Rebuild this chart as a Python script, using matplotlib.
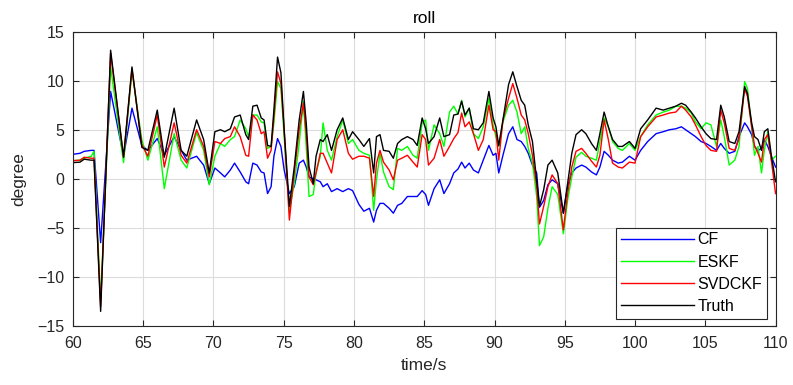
import matplotlib
matplotlib.use("Agg")
import matplotlib.pyplot as plt

plt.rcParams['font.family'] = ['Liberation Sans', 'DejaVu Sans']

t = [60.0, 60.5, 60.8, 61.3, 61.5, 61.97, 62.68, 63.6, 64.2, 64.9, 65.33, 66.0, 66.5, 67.2, 67.7,
     68.1, 68.8, 69.3, 69.7, 70.1, 70.5, 70.8, 71.2, 71.5, 71.9, 72.3, 72.5, 72.8, 73.1, 73.4,
     73.6, 73.85, 74.1, 74.3, 74.56, 74.8, 75.03, 75.4, 75.75, 76.1, 76.4, 76.6, 76.8, 77.1, 77.3,
     77.6, 77.8, 78.1, 78.4, 78.8, 79.2, 79.6, 79.9, 80.35, 80.7, 81.1, 81.4, 81.6, 81.85, 82.1,
     82.5, 82.8, 83.1, 83.4, 83.8, 84.2, 84.5, 84.85, 85.1, 85.3, 85.7, 86.1, 86.4, 86.8, 87.1,
     87.4, 87.66, 87.9, 88.2, 88.5, 88.85, 89.2, 89.6, 89.9, 90.1, 90.3, 90.6, 91.0, 91.3, 91.6,
     91.9, 92.15, 92.4, 92.7, 93.0, 93.2, 93.5, 93.8, 94.1, 94.5, 94.9, 95.2, 95.5, 95.8, 96.2,
     96.5, 96.9, 97.25, 97.5, 97.8, 98.1, 98.4, 98.8, 99.1, 99.6, 100.0, 100.4, 100.9, 101.5, 102.0,
     102.45, 102.9, 103.3, 103.6, 104.0, 104.3, 104.7, 105.05, 105.4, 105.8, 106.1, 106.35, 106.7, 107.1, 107.4,
     107.8, 108.0, 108.3, 108.5, 108.75, 109.0, 109.2, 109.45, 109.7, 110.0]

truth = [1.65, 1.7, 2.0, 1.9, 1.9, -13.5, 13.1, 2.2, 11.4, 3.2, 2.9, 7.0, 2.2, 7.2, 2.9,
         2.3, 6.0, 4.0, 0.6, 4.8, 5.0, 4.8, 5.1, 6.3, 6.5, 4.5, 4.0, 7.4, 7.5, 6.2,
         6.0, 3.4, 3.3, 7.0, 12.4, 10.8, 5.0, -2.8, 1.2, 6.0, 8.9, 5.7, 1.2, -0.5, 2.3,
         4.0, 3.8, 4.5, 2.9, 5.0, 6.2, 4.0, 4.8, 4.0, 3.3, 4.1, 0.6, 4.3, 4.5, 2.9,
         2.8, 2.1, 3.6, 4.0, 4.3, 4.0, 3.4, 6.2, 5.1, 3.6, 4.3, 6.2, 4.3, 4.5, 6.5,
         6.6, 7.9, 6.5, 7.2, 5.1, 5.0, 5.7, 8.9, 6.2, 5.3, 3.4, 6.0, 9.6, 10.9, 9.4,
         8.0, 7.5, 5.5, 3.8, -0.1, -2.8, -1.1, 1.4, 1.9, 0.6, -3.5, -0.5, 2.6, 4.5, 5.0,
         4.6, 3.6, 2.9, 4.6, 6.8, 5.3, 4.0, 3.3, 3.3, 3.8, 3.1, 5.1, 6.0, 7.2, 7.0,
         7.2, 7.4, 7.7, 7.5, 6.8, 6.2, 5.3, 4.6, 4.1, 4.0, 7.5, 6.3, 3.8, 3.6, 4.8,
         9.4, 8.7, 5.7, 4.3, 4.0, 2.9, 4.8, 5.1, 2.4, -0.3]

svdckf = [1.85, 1.9, 2.2, 2.1, 2.1, -13.0, 12.8, 2.2, 11.2, 3.5, 2.3, 6.5, 1.2, 5.7, 2.4,
          1.6, 5.0, 3.3, 0.2, 3.8, 3.6, 4.1, 4.3, 5.3, 4.3, 2.4, 2.3, 6.5, 6.0, 4.6,
          4.8, 2.1, 2.9, 6.3, 10.9, 9.7, 5.0, -4.2, 0.6, 5.0, 7.7, 4.6, 0.2, -0.6, 0.6,
          2.6, 2.6, 1.6, 0.6, 4.0, 5.0, 2.6, 2.0, 2.3, 2.3, 2.1, -1.8, 1.6, 2.9, 1.7,
          0.9, -0.1, 1.9, 2.1, 2.4, 1.7, 1.2, 4.5, 4.0, 1.4, 2.1, 4.0, 2.3, 3.3, 4.1,
          4.7, 6.7, 5.3, 5.8, 4.6, 2.9, 4.0, 7.5, 5.0, 4.8, 1.9, 6.0, 8.2, 9.7, 8.2,
          6.5, 6.0, 4.6, 2.4, -0.8, -4.6, -2.8, -0.8, 0.4, -0.5, -5.2, -1.5, 1.2, 2.8, 3.1,
          2.6, 1.8, 1.2, 2.4, 6.0, 4.0, 1.6, 1.2, 1.1, 1.7, 1.6, 4.3, 5.3, 6.3, 6.5,
          6.7, 6.8, 7.4, 7.0, 6.3, 5.5, 4.3, 3.4, 2.9, 2.8, 7.0, 5.7, 3.1, 2.9, 4.1,
          9.2, 8.4, 5.3, 3.4, 2.6, 1.7, 4.0, 4.5, 1.9, -1.5]

eskf = [1.85, 1.9, 2.1, 2.3, 2.8, -12.4, 11.4, 1.65, 11.0, 4.0, 1.9, 5.3, -1.0, 4.6, 1.9,
        1.1, 4.7, 2.9, -0.6, 2.3, 3.6, 3.3, 4.0, 4.3, 6.0, 5.1, 4.3, 6.5, 6.5, 5.8,
        5.7, 3.1, 3.3, 5.7, 9.9, 9.2, 4.3, -3.2, -0.5, 3.6, 7.9, 3.3, -1.8, -1.6, 0.6,
        2.3, 5.7, 2.9, 1.9, 4.3, 6.0, 3.6, 4.0, 2.9, 2.6, 2.4, -3.2, -0.1, 2.6, 0.7,
        -0.8, -1.1, 3.1, 2.9, 3.3, 2.4, 2.1, 5.7, 6.0, 2.9, 5.5, 4.6, 3.3, 6.8, 7.4,
        6.6, 8.0, 6.3, 7.2, 4.6, 4.1, 5.3, 8.2, 5.5, 4.3, 3.3, 5.8, 7.5, 8.0, 6.8,
        4.6, 5.3, 3.1, 1.6, -1.8, -6.8, -5.9, -3.0, -0.8, -1.6, -5.6, -2.2, 0.2, 2.2, 2.7,
        2.3, 2.1, 1.9, 3.8, 6.2, 5.3, 3.8, 3.1, 2.9, 3.6, 2.9, 4.3, 5.5, 6.5, 6.8,
        7.0, 7.4, 7.4, 7.2, 6.7, 5.8, 5.1, 5.7, 5.5, 3.3, 6.0, 4.3, 1.4, 1.9, 3.3,
        9.9, 9.2, 5.3, 2.4, 3.3, 0.6, 2.9, 4.8, 1.9, 2.3]

cf = [2.5, 2.6, 2.8, 2.9, 2.9, -6.5, 8.9, 2.3, 7.2, 3.4, 2.9, 4.1, 2.4, 4.3, 2.9,
      1.9, 2.3, 1.4, -0.5, 1.1, 0.6, 0.2, 0.9, 1.6, 0.7, -0.3, -0.5, 1.6, 1.4, 0.7,
      0.6, -1.5, -0.8, 2.3, 4.1, 3.3, 0.9, -1.5, -0.8, 1.6, 1.9, 1.2, 0.2, 0.0, -0.1,
      -0.3, -0.8, -0.5, -1.3, -1.0, -1.3, -1.0, -1.2, -2.6, -3.3, -3.0, -4.4, -3.2, -2.5, -2.5,
      -3.0, -3.5, -2.7, -2.5, -1.8, -1.8, -1.8, -1.2, -1.6, -2.7, -1.0, -0.1, -1.5, -0.5, 0.6,
      1.0, 1.7, 1.1, 1.6, 0.9, 0.6, 1.9, 3.4, 2.4, 2.6, 0.6, 2.4, 4.6, 5.3, 4.0,
      3.8, 3.3, 2.6, 1.4, 0.6, -2.9, -2.2, -0.6, -0.1, -0.5, -3.5, -0.8, 0.6, 1.1, 1.4,
      1.2, 0.7, 0.4, 1.2, 2.8, 2.4, 1.9, 1.6, 1.7, 2.3, 1.9, 2.9, 3.8, 4.6, 4.8,
      5.0, 5.1, 5.3, 5.0, 4.6, 4.3, 3.8, 3.6, 3.3, 2.9, 3.6, 3.1, 2.6, 2.8, 4.3,
      5.7, 5.3, 4.5, 3.3, 2.9, 3.1, 4.0, 3.3, 2.3, 1.2]

series_names = ['CF', 'ESKF', 'SVDCKF', 'Truth']
series_colors = ['#0000ff', '#00ff00', '#ff0000', '#000000']

fig = plt.figure(figsize=(7.93, 3.85), dpi=100)
ax = fig.add_axes([0.092, 0.153, 0.886, 0.765])

for vals, name, col in zip([cf, eskf, svdckf, truth], series_names, series_colors):
    ax.plot(t, vals, color=col, lw=1.0, label=name)

ax.set_xlim(60, 110)
ax.set_ylim(-15, 15)
ax.set_xticks(range(60, 111, 5))
ax.set_yticks(range(-15, 16, 5))
ax.grid(True, color='#dcdcdc', lw=0.8)
ax.set_axisbelow(True)
ax.tick_params(direction='in', top=True, right=True, labelsize=11.5, colors='#262626', length=4)
ax.tick_params(axis='x', pad=7)
ax.tick_params(axis='y', pad=6)
for s in ax.spines.values():
    s.set_color('#262626')
    s.set_linewidth(0.8)

ax.set_title('roll', fontsize=12.5, color='#000000', pad=6)
ax.set_xlabel('time/s', fontsize=12.5, labelpad=5, color='#262626')
ax.set_ylabel('degree', fontsize=12.5, labelpad=8, color='#262626')

leg = ax.legend(loc='lower right', bbox_to_anchor=(0.988, 0.025), fancybox=False,
                edgecolor='#262626', framealpha=1, fontsize=11.5, handlelength=4.6,
                borderaxespad=0, labelspacing=0.45, handletextpad=0.2, borderpad=0.3)
leg.get_frame().set_linewidth(0.8)

fig.savefig('out.png', dpi=100)
